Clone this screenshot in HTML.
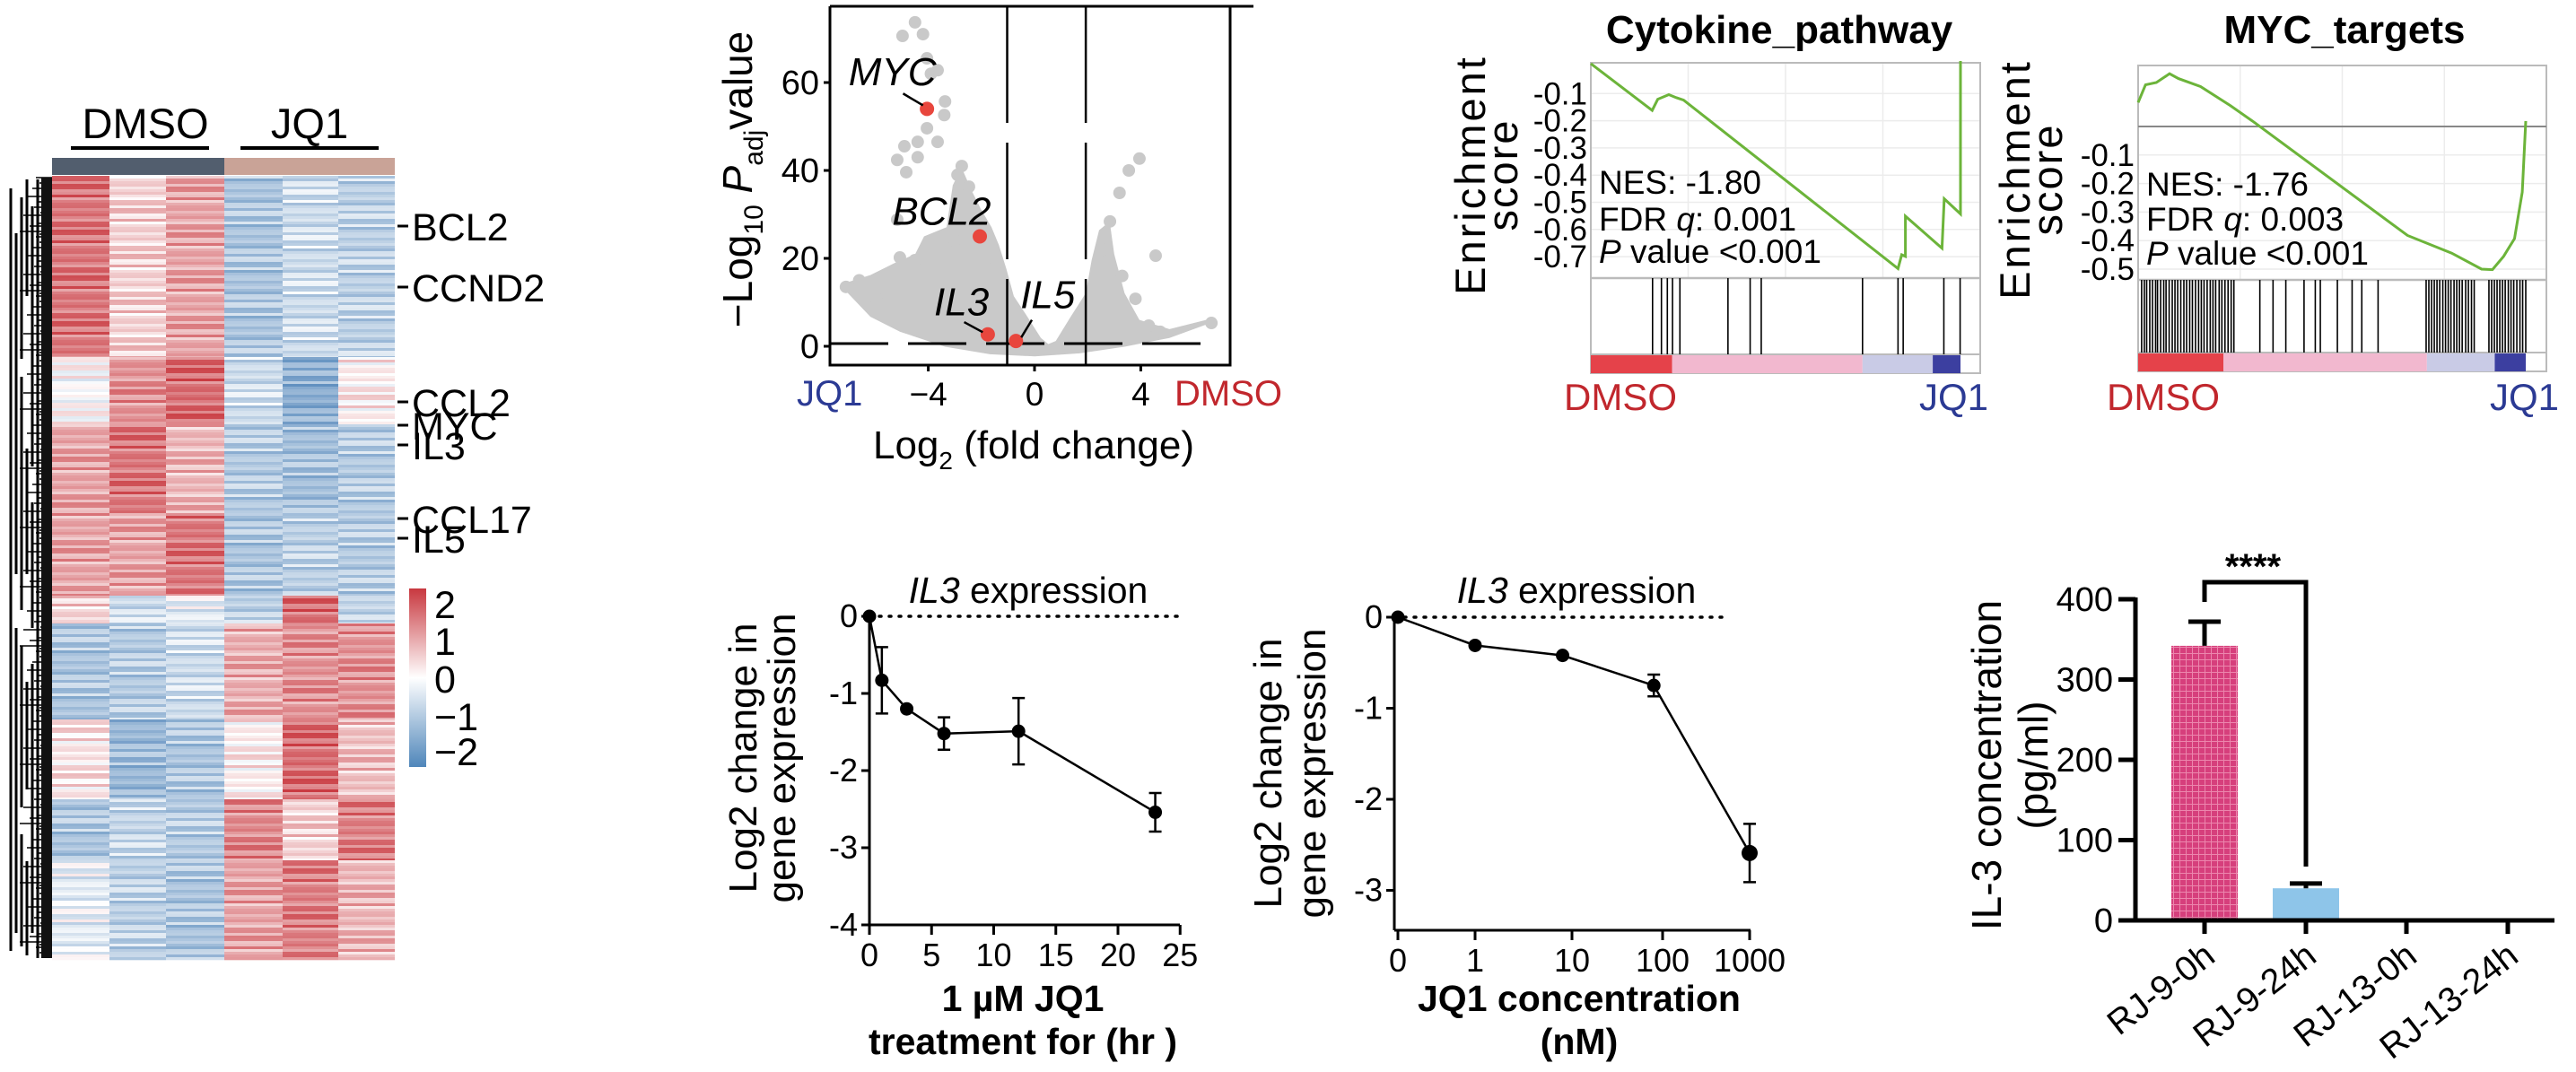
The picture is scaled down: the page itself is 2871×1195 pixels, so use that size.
<!DOCTYPE html>
<html><head><meta charset="utf-8"><style>
html,body{margin:0;padding:0;background:#fff;}
svg{display:block;font-family:"Liberation Sans",Arial,sans-serif;}
</style></head><body>
<svg id="fig" width="2871" height="1195" viewBox="0 0 2871 1195" xmlns="http://www.w3.org/2000/svg">
<defs>
<pattern id="gridpat" width="7" height="7" patternUnits="userSpaceOnUse">
<rect width="7" height="7" fill="#d63f7c"/>
<path d="M0 0.5H7M0.5 0V7" stroke="#ec86ad" stroke-width="1"/>
</pattern>
<linearGradient id="cbar" x1="0" y1="0" x2="0" y2="1">
<stop offset="0" stop-color="#c8383f"/><stop offset="0.5" stop-color="#ffffff"/><stop offset="1" stop-color="#4f86ba"/>
</linearGradient>
</defs>

<g id="heatmap">
<text x="162" y="154" font-size="47" text-anchor="middle">DMSO</text>
<text x="345" y="154" font-size="47" text-anchor="middle">JQ1</text>
<rect x="79" y="163" width="154" height="4" fill="#000"/>
<rect x="268" y="163" width="154" height="4" fill="#000"/>
<rect x="58" y="176" width="192" height="19" fill="#525e6e"/>
<rect x="250" y="176" width="190" height="19" fill="#c9a397"/>
<g id="hmcells"></g>
<g id="dendro"></g>
<g id="genelabels"></g>
<rect x="456" y="656" width="19" height="199" fill="url(#cbar)"/>
<g font-size="43">
<text x="484" y="689">2</text><text x="484" y="730">1</text><text x="484" y="772">0</text><text x="484" y="814">−1</text><text x="484" y="853">−2</text>
</g>
</g>

<g id="volcano"></g>
<g id="gsea1"></g>
<g id="gsea2"></g>
<g id="timechart"></g>
<g id="concchart"></g>
<g id="barchart"></g>
</svg>

<script>
const hmBlockStarts = [196, 398, 473, 572, 664, 695, 802, 891, 959];
const hmBlockEnd = 1070;
const hmBlockValues = [
  [1.5, 0.5, 1.0, -1.0, -0.6, -0.8],
  [0.0, 1.2, 1.6, -0.6, -1.4, 0.2],
  [1.0, 1.5, 0.8, -0.9, -1.1, -0.9],
  [1.0, 1.0, 1.5, -1.0, -0.8, -0.9],
  [0.5, -0.6, -0.3, -0.8, 1.6, -0.7],
  [-1.0, -0.9, -0.6, 0.9, 1.2, 1.2],
  [0.3, -1.2, -1.0, 0.2, 1.6, 0.7],
  [-1.0, -0.7, -0.9, 1.3, 0.5, 1.4],
  [-0.3, -0.8, -1.0, 1.0, 1.4, 0.8]
];
const hmStripe = [0.3, -0.4, 0.1, -0.2, 0.5, -0.6, 0.0, 0.35, -0.3, 0.15, -0.5, 0.45, -0.1, 0.2, -0.35, 0.6, -0.25];
const hmGenes = ["BCL2", "CCND2", "CCL2", "MYC", "IL3", "CCL17", "IL5"];
const hmGeneRows = [252, 320, 448, 474, 496, 578, 600];

const volGrayX = [-4.5,-4.97,-4.2,-4.05,-3.9,-3.65,-3.37,-3.4,-4.05,-4.4,-3.65,-4.9,-4.4,-5.17,-4.83,-2.74,-2.9,-2.47,3.95,3.55,3.2,4.56,-5.17,-6.6,-7.1,-5.07,-4.5,-5.95,6.66,4.73,4.3,3.8,2.84,-3.0,-2.2,-1.5,2.6,3.3];
const volGrayY = [73.7,70.6,71,65.5,62,62.8,55.7,52.6,49.6,46.5,46.5,45.5,43,42.4,39.6,41,39,36.3,42.7,40,34.9,20.6,28.8,15,13.5,20.2,19.6,10.8,5.3,3.3,4.7,10.8,28.4,24,28,18,22,16];
const volCloudX = [-7.25,-6.18,-5.06,-3.37,-1.68,0.01,1.7,3.39,5.08,6.77,6.66,5.08,3.95,3.39,3.0,2.83,2.43,2.15,1.93,1.36,0.8,0.52,0.24,-0.33,-0.78,-1.06,-1.34,-1.62,-2.02,-2.35,-2.75,-3.08,-3.31,-4.16,-4.49,-5.28,-6.18,-7.08];
const volCloudY = [13.5,6.7,3.3,-0.1,-1.8,-2.3,-1.6,-0.1,1.9,5.6,6.3,3.9,6,12.1,21,28.4,26.4,19.6,12.1,6.7,1.2,0.5,1.9,7.3,11.4,17.6,23,27.1,31.2,35.2,40.7,36.6,27.1,25,21,18.9,16.2,14.5];
const volHighlightNames = ["MYC", "BCL2", "IL3", "IL5"];
const volHighlightX = [-4.05, -2.06, -1.76, -0.7];
const volHighlightY = [54, 25, 2.7, 1.2];
const volYTicks = [0, 20, 40, 60];
const volXTicks = [-4, 0, 4];

const gsea1Rank = [0, 0.166, 0.181, 0.211, 0.231, 0.251, 0.831, 0.841, 0.851, 0.851, 0.950, 0.956, 1.0, 1.0];
const gsea1ES = [0.01, -0.162, -0.121, -0.104, -0.115, -0.124, -0.744, -0.693, -0.699, -0.551, -0.669, -0.487, -0.543, 0.02];
const gsea1Hits = [0.167, 0.191, 0.207, 0.221, 0.241, 0.371, 0.431, 0.461, 0.735, 0.831, 0.845, 0.955, 0.999];
const gsea1Ticks = [-0.1, -0.2, -0.3, -0.4, -0.5, -0.6, -0.7];
const gsea2Rank = [0, 0.019, 0.047, 0.081, 0.104, 0.161, 0.238, 0.295, 0.695, 0.809, 0.886, 0.914, 0.943, 0.971, 0.991, 1.0];
const gsea2ES = [0.084, 0.146, 0.154, 0.185, 0.168, 0.14, 0.073, 0.019, -0.382, -0.444, -0.5, -0.502, -0.455, -0.393, -0.23, 0.019];
const gsea2Hits = [0.009,0.016,0.022,0.03,0.037,0.045,0.05,0.058,0.066,0.072,0.08,0.088,0.095,0.102,0.11,0.118,0.125,0.133,0.14,0.148,0.156,0.163,0.17,0.178,0.186,0.193,0.2,0.209,0.216,0.224,0.232,0.24,0.247,0.314,0.348,0.381,0.428,0.457,0.47,0.514,0.552,0.577,0.619,0.743,0.75,0.757,0.764,0.771,0.778,0.786,0.793,0.8,0.807,0.815,0.822,0.829,0.836,0.845,0.852,0.86,0.867,0.905,0.912,0.919,0.926,0.933,0.94,0.947,0.955,0.962,0.969,0.977,0.985,0.992,1.0];
const gsea2Ticks = [-0.1, -0.2, -0.3, -0.4, -0.5];

const timeHours = [0, 1, 3, 6, 12, 23];
const timeMean = [0, -0.83, -1.2, -1.52, -1.49, -2.54];
const timeErr = [0, 0.43, 0, 0.21, 0.43, 0.25];
const timeXTicks = [0, 5, 10, 15, 20, 25];
const timeYTicks = [0, -1, -2, -3, -4];

const concDose = [0, 1, 8, 80, 1000];
const concMean = [0, -0.31, -0.42, -0.75, -2.59];
const concErr = [0, 0, 0, 0.12, 0.32];
const concXTicks = [0, 1, 10, 100, 1000];
const concYTicks = [0, -1, -2, -3];

const barCats = ["RJ-9-0h", "RJ-9-24h", "RJ-13-0h", "RJ-13-24h"];
const barVals = [342, 40, 0, 0];
const barErrs = [30, 6, 0, 0];
const barYTicks = [0, 100, 200, 300, 400];

const NS = "http://www.w3.org/2000/svg";
function mk(parent, tag, attrs, text) {
  const e = document.createElementNS(NS, tag);
  for (const k in attrs) e.setAttribute(k, attrs[k]);
  if (text !== undefined) e.textContent = text;
  parent.appendChild(e);
  return e;
}

(function(){
  const g = document.getElementById('hmcells');
  const colX = [58, 122, 185, 250, 315, 377, 440];
  function col(v){
    v = Math.max(-2.2, Math.min(2.2, v));
    let t = Math.abs(v) / 2.2;
    const c = v >= 0 ? [200, 54, 61] : [77, 130, 184];
    const r = Math.round(255 + (c[0]-255)*t), gg = Math.round(255 + (c[1]-255)*t), b = Math.round(255 + (c[2]-255)*t);
    return `rgb(${r},${gg},${b})`;
  }
  let row = 0;
  for (let bi = 0; bi < hmBlockStarts.length; bi++) {
    const y0 = hmBlockStarts[bi], y1 = bi + 1 < hmBlockStarts.length ? hmBlockStarts[bi+1] : hmBlockEnd;
    for (let y = y0; y < y1; y += 3, row++) {
      for (let c = 0; c < 6; c++) {
        const v = hmBlockValues[bi][c] + hmStripe[(row*7 + c*5) % hmStripe.length] * 0.9;
        const r = mk(g, 'rect', {x: colX[c], y: y, width: colX[c+1]-colX[c], height: Math.min(3, y1 - y) + 0.3, fill: col(v)});
        
        
      }
    }
  }
  const d = document.getElementById('dendro');
  const depths = [40, 48, 44, 52, 36, 50, 46, 30, 54, 42, 49, 38, 51, 45, 26, 53, 47, 41, 33, 48, 22, 44];
  let i = 0;
  for (let y = 198; y < 1068; y += 3, i++) {
    const x0 = depths[i % depths.length];
    const l = mk(d, 'line', {x1: x0, y1: y, x2: 58, y2: y, stroke: '#000', 'stroke-width': 1.6});
    
    
  }
  const vlines = [[12, 210, 1060], [18, 260, 640], [18, 700, 1040], [24, 220, 400], [24, 420, 680], [24, 720, 900], [24, 930, 1055], [30, 200, 330], [30, 500, 640], [30, 760, 880], [30, 960, 1065], [36, 230, 520], [36, 560, 700], [36, 740, 1040], [42, 200, 1068]];
  vlines.forEach(v => {
    const l = mk(d, 'line', {x1: v[0], y1: v[1], x2: v[0], y2: v[2], stroke: '#000', 'stroke-width': 3});
    
    
  });
  mk(d, 'rect', {x: 46, y: 198, width: 12, height: 870, fill: '#111'});
  const gl = document.getElementById('genelabels');
  hmGenes.forEach((name, k) => {
    const y = hmGeneRows[k];
    mk(gl, 'line', {x1: 443, y1: y, x2: 455, y2: y, stroke: '#000', 'stroke-width': 3});
    const t = mk(gl, 'text', {x: 459, y: y + 16, 'font-size': 43}, name);
    
    
  });
})();

(function(){
  const g = document.getElementById('volcano');
  const vx = v => 1153 + v * 29.6;
  const vy = v => 386 - v * 4.9;
  mk(g, 'line', {x1: 925, y1: 7, x2: 1397, y2: 7, stroke: '#000', 'stroke-width': 3});
  let pts = volCloudX.map((x, k) => vx(x) + ',' + vy(volCloudY[k])).join(' ');
  const poly = mk(g, 'polygon', {points: pts, fill: '#c9c9c9'});
  
  
  volGrayX.forEach((x, k) => {
    const c = mk(g, 'circle', {cx: vx(x), cy: vy(volGrayY[k]), r: 7, fill: '#c9c9c9'});
    
    
  });
  mk(g, 'line', {x1: 925, y1: vy(0.6), x2: 1348, y2: vy(0.6), stroke: '#000', 'stroke-width': 3, 'stroke-dasharray': '65,22'});
  mk(g, 'line', {x1: vx(-1.03), y1: 7, x2: vx(-1.03), y2: 407, stroke: '#000', 'stroke-width': 2.5, 'stroke-dasharray': '130,22'});
  mk(g, 'line', {x1: vx(1.93), y1: 7, x2: vx(1.93), y2: 407, stroke: '#000', 'stroke-width': 2.5, 'stroke-dasharray': '130,22'});
  mk(g, 'path', {d: 'M925 7V407H1371V7', fill: 'none', stroke: '#000', 'stroke-width': 3});
  const lblPos = [[-7.0, 59.4, 'start'], [-3.5, 27.7, 'middle'], [-2.75, 7, 'middle'], [0.5, 8.7, 'middle']];
  volHighlightNames.forEach((n, k) => {
    const c = mk(g, 'circle', {cx: vx(volHighlightX[k]), cy: vy(volHighlightY[k]), r: 8, fill: '#e8463d'});
    
    
    const t = mk(g, 'text', {x: vx(lblPos[k][0]), y: vy(lblPos[k][1]), 'font-size': 44, 'font-style': 'italic', 'text-anchor': lblPos[k][2]}, n);
    
    
  });
  mk(g, 'line', {x1: vx(-4.95), y1: vy(57.5), x2: vx(-4.2), y2: vy(54.8), stroke: '#000', 'stroke-width': 2.5});
  mk(g, 'line', {x1: vx(-2.65), y1: vy(5.5), x2: vx(-1.95), y2: vy(3.2), stroke: '#000', 'stroke-width': 2.5});
  mk(g, 'line', {x1: vx(-0.1), y1: vy(6), x2: vx(-0.5), y2: vy(2), stroke: '#000', 'stroke-width': 2.5});
  volYTicks.forEach(t => {
    mk(g, 'line', {x1: 918, y1: vy(t), x2: 925, y2: vy(t), stroke: '#000', 'stroke-width': 3});
    const tx = mk(g, 'text', {x: 913, y: vy(t) + 13, 'font-size': 38, 'text-anchor': 'end'}, String(t));
    
    
  });
  volXTicks.forEach(t => {
    mk(g, 'line', {x1: vx(t), y1: 407, x2: vx(t), y2: 414, stroke: '#000', 'stroke-width': 3});
    const tx = mk(g, 'text', {x: vx(t), y: 452, 'font-size': 37, 'text-anchor': 'middle'}, t < 0 ? '−' + Math.abs(t) : String(t));
    
    
  });
  const j = mk(g, 'text', {x: 888, y: 452, 'font-size': 40, fill: '#2b3a94'}, 'JQ1');
   
  const dm = mk(g, 'text', {x: 1309, y: 452, 'font-size': 40, fill: '#c1272d'}, 'DMSO');
   
  const xt = mk(g, 'text', {x: 1152, y: 511, 'font-size': 44, 'text-anchor': 'middle'});
   
  xt.innerHTML = 'Log<tspan font-size="28" dy="12">2</tspan><tspan dy="-12"> (fold change)</tspan>';
  const yt = mk(g, 'text', {x: 0, y: 0, 'font-size': 46, 'text-anchor': 'middle', transform: 'translate(838,200) rotate(-90)'});
   
  yt.innerHTML = '−Log<tspan font-size="30" dy="12">10</tspan><tspan dy="-12" font-style="italic"> P</tspan><tspan font-size="30" dy="12">adj</tspan><tspan dy="-12">value</tspan>';
})();

function drawGsea(gid, o, rank, es, hits, ticks, title, nes, fdr) {
  const g = document.getElementById(gid);
  const X = f => o.x0 + f * (o.xEnd - o.x0);
  const Y = v => o.y0 - v * o.s;
  const t = mk(g, 'text', {x: o.tx, y: 48, 'font-size': 44, 'font-weight': 'bold', 'text-anchor': 'middle'}, title);
   
  ticks.forEach(v => mk(g, 'line', {x1: o.x0, y1: Y(v), x2: o.x1, y2: Y(v), stroke: '#ececec', 'stroke-width': 1.5}));
  [0.25, 0.5, 0.75].forEach(f => mk(g, 'line', {x1: o.x0 + f*(o.x1-o.x0), y1: o.top, x2: o.x0 + f*(o.x1-o.x0), y2: o.esBot, stroke: '#ececec', 'stroke-width': 1.5}));
  mk(g, 'rect', {x: o.x0, y: o.top, width: o.x1 - o.x0, height: o.barBot - o.top, fill: 'none', stroke: '#bbb', 'stroke-width': 2});
  mk(g, 'line', {x1: o.x0, y1: o.esBot, x2: o.x1, y2: o.esBot, stroke: '#bbb', 'stroke-width': 2.5});
  if (o.zeroLine) mk(g, 'line', {x1: o.x0, y1: Y(0), x2: o.x1, y2: Y(0), stroke: '#888', 'stroke-width': 2});
  const segs = o.segs;
  for (let k = 0; k < segs.length; k++) {
    const r = mk(g, 'rect', {x: X(segs[k][0]), y: o.tickBot, width: X(segs[k][1]) - X(segs[k][0]), height: o.barBot - o.tickBot, fill: segs[k][2]});
     
  }
  mk(g, 'line', {x1: o.x0, y1: o.tickBot, x2: o.x1, y2: o.tickBot, stroke: '#bbb', 'stroke-width': 2});
  hits.forEach(h => {
    const l = mk(g, 'line', {x1: X(h), y1: o.esBot, x2: X(h), y2: o.tickBot, stroke: '#000', 'stroke-width': 1.6});
     
  });
  const p = mk(g, 'polyline', {points: rank.map((r, k) => X(r) + ',' + Y(es[k])).join(' '), fill: 'none', stroke: '#6cb43a', 'stroke-width': 3});
   
  ticks.forEach(v => {
    const tx = mk(g, 'text', {x: o.x0 - 4, y: Y(v) + 12, 'font-size': 35, 'text-anchor': 'end'}, v.toFixed(1));
     
  });
  const st = o.x0 + 9;
  const a = mk(g, 'text', {x: st, y: o.ny[0], 'font-size': 37}, 'NES: ' + nes);
   
  const b = mk(g, 'text', {x: st, y: o.ny[1], 'font-size': 37});
  b.innerHTML = 'FDR <tspan font-style="italic">q</tspan>: ' + fdr;
   
  const c = mk(g, 'text', {x: st, y: o.ny[2], 'font-size': 37});
  c.innerHTML = '<tspan font-style="italic">P</tspan>  value &lt;0.001';
   
  const yl = mk(g, 'text', {x: 0, y: 0, 'font-size': 47, 'text-anchor': 'middle', 'letter-spacing': 3, transform: `translate(${o.ylx},${o.yly}) rotate(-90)`}, 'Enrichment');
   
  const yl2 = mk(g, 'text', {x: 0, y: 0, 'font-size': 47, 'text-anchor': 'middle', 'letter-spacing': 2, transform: `translate(${o.ylx + 36},${o.yly}) rotate(-90)`}, 'score');
   
  const dl = mk(g, 'text', {x: o.dx, y: 457, 'font-size': 42, fill: '#c1272d'}, 'DMSO');
   
  const jl = mk(g, 'text', {x: o.jx, y: 457, 'font-size': 42, fill: '#2b3a94', 'text-anchor': 'end'}, 'JQ1');
   
}
drawGsea('gsea1', {x0: 1773, x1: 2207, xEnd: 2185, top: 70, esBot: 310, tickBot: 395, barBot: 416, y0: 74, s: 303, tx: 1983,
  segs: [[0, 0.22, '#e5424a'], [0.22, 0.735, '#f2b8cf'], [0.735, 0.925, '#c9cbe6'], [0.925, 1.0, '#3c3fa0']],
  ny: [216, 257, 293], ylx: 1655, yly: 195, dx: 1743, jx: 2216, zeroLine: false},
  gsea1Rank, gsea1ES, gsea1Hits, gsea1Ticks, 'Cytokine_pathway', '-1.80', '0.001');
drawGsea('gsea2', {x0: 2383, x1: 2838, xEnd: 2815, top: 73, esBot: 312, tickBot: 393, barBot: 414, y0: 141, s: 318, tx: 2613,
  segs: [[0, 0.22, '#e5424a'], [0.22, 0.745, '#f2b8cf'], [0.745, 0.92, '#c9cbe6'], [0.92, 1.0, '#3c3fa0']],
  ny: [218, 257, 295], ylx: 2262, yly: 200, dx: 2348, jx: 2852, zeroLine: true},
  gsea2Rank, gsea2ES, gsea2Hits, gsea2Ticks, 'MYC_targets', '-1.76', '0.003');

function drawLine(gid, o, xs, ys, errs, xt, yt, xpos) {
  const g = document.getElementById(gid);
  const Y = v => o.y0 - v * o.s;
  mk(g, 'line', {x1: o.ax, y1: Y(0), x2: o.dotEnd, y2: Y(0), stroke: '#000', 'stroke-width': 3.5, 'stroke-dasharray': '2,9', 'stroke-linecap': 'round'});
  mk(g, 'line', {x1: o.ax, y1: Y(0) - 2, x2: o.ax, y2: o.axBot, stroke: '#000', 'stroke-width': 3});
  mk(g, 'line', {x1: o.ax, y1: o.axBot, x2: o.axRight, y2: o.axBot, stroke: '#000', 'stroke-width': 3});
  yt.forEach(v => {
    mk(g, 'line', {x1: o.ax - 9, y1: Y(v), x2: o.ax, y2: Y(v), stroke: '#000', 'stroke-width': 3});
    const t = mk(g, 'text', {x: o.ax - 13, y: Y(v) + 12, 'font-size': 36, 'text-anchor': 'end'}, v < 0 ? '-' + Math.abs(v) : String(v));
     
  });
  xt.forEach(v => {
    const x = xpos(v);
    mk(g, 'line', {x1: x, y1: o.axBot, x2: x, y2: o.axBot + 11, stroke: '#000', 'stroke-width': 3});
    const t = mk(g, 'text', {x: x, y: o.axBot + 46, 'font-size': 36, 'text-anchor': 'middle'}, String(v));
     
  });
  const pl = mk(g, 'polyline', {points: xs.map((x, k) => xpos(x) + ',' + Y(ys[k])).join(' '), fill: 'none', stroke: '#000', 'stroke-width': 2.5});
   
  xs.forEach((x, k) => {
    const px = xpos(x);
    if (errs[k] > 0) {
      mk(g, 'path', {d: `M${px} ${Y(ys[k] + errs[k])}V${Y(ys[k] - errs[k])}M${px - 7} ${Y(ys[k] + errs[k])}H${px + 7}M${px - 7} ${Y(ys[k] - errs[k])}H${px + 7}`, stroke: '#000', 'stroke-width': 2.5, fill: 'none'});
    }
    const c = mk(g, 'circle', {cx: px, cy: Y(ys[k]), r: k === xs.length - 1 && o.bigLast ? 9 : 7.5, fill: '#000'});
     
  });
  const tt = mk(g, 'text', {x: o.tx, y: 672, 'font-size': 41, 'text-anchor': 'middle'});
  tt.innerHTML = '<tspan font-style="italic">IL3</tspan> expression';
   
  const y1 = mk(g, 'text', {x: 0, y: 0, 'font-size': 44, 'text-anchor': 'middle', transform: `translate(${o.yl1},${o.yly}) rotate(-90)`}, 'Log2  change  in');
   
  const y2 = mk(g, 'text', {x: 0, y: 0, 'font-size': 44, 'text-anchor': 'middle', transform: `translate(${o.yl2},${o.yly}) rotate(-90)`}, 'gene  expression');
   
  o.xtitle.forEach((s, k) => {
    const t = mk(g, 'text', {x: o.xtx, y: 1127 + k * 48, 'font-size': 41, 'font-weight': 'bold', 'text-anchor': 'middle'}, s);
     
  });
}
drawLine('timechart', {ax: 969, axBot: 1031, axRight: 1315, dotEnd: 1314, y0: 687, s: 86, tx: 1146, yl1: 843, yl2: 886, yly: 845, xtx: 1140, xtitle: ['1 µM JQ1', 'treatment for (hr )']},
  timeHours, timeMean, timeErr, timeXTicks, timeYTicks, h => 969 + h * 13.85);
const concTickPos = [1554, 1644, 1752, 1853, 1950];
function concX(v) {
  if (v <= 0) return 1558;
  const lv = Math.log10(v);
  const i = Math.min(3, Math.floor(lv));
  const f = lv - i;
  return concTickPos[i + 1] + f * (concTickPos[Math.min(4, i + 2)] - concTickPos[i + 1]);
}
function concTickX(v) { return concTickPos[concXTicks.indexOf(v)]; }
drawLine('concchart', {ax: 1554, axBot: 1037, axRight: 1951, dotEnd: 1923, y0: 688, s: 101.5, tx: 1757, yl1: 1428, yl2: 1477, yly: 862, xtx: 1760, bigLast: true, xtitle: ['JQ1 concentration', '(nM)']},
  concDose, concMean, concErr, concXTicks, concYTicks, v => concXTicks.includes(v) && concDose.indexOf(v) === -1 ? concTickX(v) : concX(v));

(function(){
  const g = document.getElementById('barchart');
  const Y = v => 1026 - v * 0.895;
  const centers = [2457, 2570, 2682, 2795];
  const fills = ['url(#gridpat)', '#8ec5e9', '#ccc', '#ccc'];
  barVals.forEach((v, k) => {
    if (v > 0) {
      const r = mk(g, 'rect', {x: centers[k] - 37, y: Y(v), width: 74, height: Y(0) - Y(v), fill: fills[k]});
      
      
      if (barErrs[k] > 0) mk(g, 'path', {d: `M${centers[k]} ${Y(v)}V${Y(v + barErrs[k])}M${centers[k] - 18} ${Y(v + barErrs[k])}H${centers[k] + 18}`, stroke: '#000', 'stroke-width': 5, fill: 'none'});
    }
  });
  mk(g, 'line', {x1: 2380, y1: Y(0), x2: 2380, y2: Y(400) - 2, stroke: '#000', 'stroke-width': 5});
  mk(g, 'line', {x1: 2361, y1: Y(0), x2: 2847, y2: Y(0), stroke: '#000', 'stroke-width': 5});
  barYTicks.forEach(v => {
    mk(g, 'line', {x1: 2361, y1: Y(v), x2: 2380, y2: Y(v), stroke: '#000', 'stroke-width': 5});
    const t = mk(g, 'text', {x: 2355, y: Y(v) + 13, 'font-size': 38, 'text-anchor': 'end'}, String(v));
     
  });
  barCats.forEach((c, k) => {
    mk(g, 'line', {x1: centers[k], y1: Y(0), x2: centers[k], y2: 1041, stroke: '#000', 'stroke-width': 5});
    const t = mk(g, 'text', {x: 0, y: 0, 'font-size': 39, 'text-anchor': 'end', transform: `translate(${centers[k] + 14},${1070}) rotate(-38)`}, c);
     
  });
  const br = mk(g, 'path', {d: `M${centers[0]} 671V649H${centers[1]}V966`, stroke: '#000', 'stroke-width': 5, fill: 'none'});
   
  const s = mk(g, 'text', {x: 2511, y: 645, 'font-size': 40, 'font-weight': 'bold', 'text-anchor': 'middle'}, '****');
   
  const y1 = mk(g, 'text', {x: 0, y: 0, 'font-size': 46, 'text-anchor': 'middle', transform: 'translate(2230,853) rotate(-90)'}, 'IL-3  concentration');
   
  const y2 = mk(g, 'text', {x: 0, y: 0, 'font-size': 46, 'text-anchor': 'middle', transform: 'translate(2282,853) rotate(-90)'}, '(pg/ml)');
   
})();
</script>
</body></html>
